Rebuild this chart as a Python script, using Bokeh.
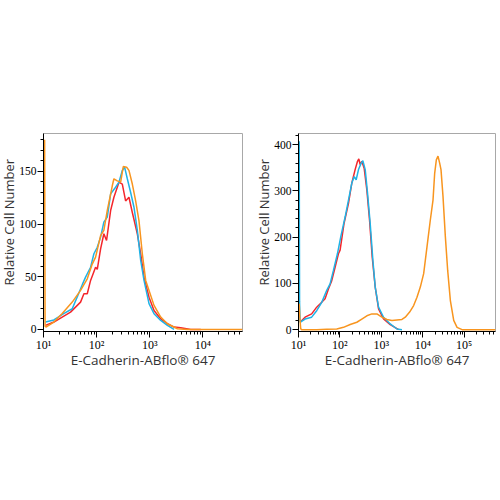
import math
from bokeh.plotting import figure
from bokeh.layouts import row
from bokeh.models import SingleIntervalTicker, LogTicker, Range1d
from bokeh.core.properties import value
from bokeh.embed import file_html
from bokeh.resources import INLINE

# ---------------- data: left panel ----------------
left_red_x = [10.9, 15.7, 22.5, 32.3, 49.9, 57.7, 66.7, 77.1, 95.7, 103, 119, 137, 154, 184, 212,
              264, 305, 352, 407, 471, 585, 677, 782, 972, 1207, 1614, 2155, 2875, 3843, 5940, 9160]
left_red_y = [3.8, 7, 11.7, 16.4, 25.9, 33.8, 33.8, 46.5, 59, 57, 76.5, 90.8, 84.4, 113, 125.5,
              139.8, 138, 122, 125.5, 111, 90.8, 71.8, 49.6, 30.6, 18, 10, 5.4, 2.2, 1.6, 0, 0]

left_blue_x = [10.9, 15.7, 24, 34.8, 43, 54, 62, 77.1, 89, 103, 119, 137, 159, 184, 228,
               264, 305, 337, 379, 438, 506, 585, 677, 782, 972, 1207, 1614, 2155, 2875]
left_blue_y = [7, 9, 15, 19.6, 30.6, 42.7, 49.6, 59, 71.8, 78, 87.6, 101.8, 106.6, 128.7, 135,
               139.8, 150.9, 154, 143, 130, 116, 94, 65.5, 46.5, 24.4, 14.9, 8.5, 3.8, 0]

left_orange_x = [10.5, 10.7, 11.1, 15.7, 22.5, 34.8, 49.9, 66.7, 82.8, 95.7, 119, 137, 159, 198, 212,
                 245, 284, 318, 368, 407, 471, 544, 629, 727, 841, 972, 1207, 1614, 2155, 3325,
                 5140, 12250, 56000]
left_orange_y = [180, 3, 2.2, 7, 15, 25.9, 37, 48, 62, 68.6, 89, 94, 113, 136.6, 143,
                 141, 139.8, 154.6, 154, 151, 138, 122, 103, 71.8, 46.5, 37, 22.8, 11.7, 5.4, 0.6,
                 0, 0, 0]

# ---------------- data: right panel ----------------
right_red_x = [10.9, 14.4, 20.8, 27.5, 34.4, 43.8, 52.8, 63.5, 76.5, 92.1, 101, 126, 161, 194, 233,
               266, 286, 308, 338, 385, 447, 519, 602, 712, 857, 1132, 1641, 2613]
right_red_y = [16, 27, 34, 48.6, 57, 67, 88, 106, 135, 164, 172, 230, 273, 317, 346,
               364, 369, 357, 364, 349, 302, 237, 157, 92, 45, 23, 11, 0]

right_blue_x = [10.4, 10.6, 10.9, 14.4, 20.8, 27.5, 36.4, 48.1, 57.9, 69.7, 87.1, 105, 134, 161, 194,
                221, 247, 281, 326, 358, 408, 464, 538, 625, 712, 857, 1132, 1641, 2383, 3148]
right_blue_y = [407, 60, 16, 23, 27, 41, 59, 85, 99, 128, 164, 201, 244, 280, 317,
                331, 324, 346, 360, 365, 346, 295, 230, 150, 92, 48.6, 26.8, 12.3, 1.4, 0]

right_orange_x = [10.4, 10.7, 11.3, 11.9, 27.5, 48.1, 84, 122, 177, 256, 338, 447, 591, 781, 1031,
                  1364, 1803, 2383, 3148, 3787, 4822, 6028, 7256, 8738, 10520, 12660, 15240,
                  17690, 19410, 21290, 23350, 25610, 27590, 30830, 35140, 40000, 46440, 55950,
                  67330, 88900, 571000]
right_orange_y = [56, 30, 2, 0, 0, 0.7, 1.4, 5, 11, 16, 23, 30, 34, 34, 27,
                  22, 20, 21, 22, 27, 38, 52, 70, 92, 121, 179, 237,
                  280, 338, 367, 375, 360, 346, 288, 201, 128, 63, 20,
                  5, 0, 0]

x_label = "E-Cadherin-ABflo® 647"
y_label = "Relative Cell Number"
left_y_range = (-2, 186)
right_y_range = (-4, 424)
left_x_range = (10, 56000)
right_x_range = (10, 571000)
sup = {1: "10¹", 2: "10²", 3: "10³", 4: "10⁴", 5: "10⁵"}

RED = "#f4262b"
BLUE = "#1fb3e6"
ORANGE = "#f8951f"
SERIF = "Liberation Serif"
LABEL_COLOR = "#333333"


def make_ylabel(width, text_x):
    """Narrow strip that carries the rotated y-axis title."""
    f = figure(width=width, height=500, x_range=Range1d(0, width), y_range=Range1d(0, 500),
               min_border=0, x_axis_location=None, y_axis_location=None,
               output_backend="svg", toolbar_location=None)
    f.grid.visible = False
    f.outline_line_color = None
    f.text(x=[text_x], y=[276], text=[y_label], angle=math.pi / 2,
           text_align="center", text_baseline="middle",
           text_font=value("Open Sans"), text_font_size="13px", text_color=LABEL_COLOR)
    return f


def make_panel(xr, yr, interval, border_left, frame_w, border_right, series):
    p = figure(x_axis_type="log", width=border_left + frame_w + border_right, height=500,
               frame_width=frame_w, frame_height=198,
               min_border_left=border_left, min_border_right=border_right,
               min_border_top=133, min_border_bottom=169,
               x_range=Range1d(*xr), y_range=Range1d(*yr),
               output_backend="svg", toolbar_location=None)
    for xs, ys, c in series:
        p.line(xs, ys, line_color=c, line_width=1.5)
    p.grid.visible = False
    p.outline_line_color = "#a8a8a8"
    p.outline_line_width = 1
    p.background_fill_color = "white"
    p.border_fill_color = "white"

    p.yaxis.ticker = SingleIntervalTicker(interval=interval, num_minor_ticks=5)
    p.xaxis.ticker = LogTicker(num_minor_ticks=10)
    overrides = {}
    for k, v in sup.items():
        overrides[10 ** k] = v
        overrides[str(10 ** k)] = v
    p.xaxis.major_label_overrides = overrides
    p.xaxis.major_label_text_align = "left"

    for ax in (p.xaxis, p.yaxis):
        ax.axis_line_color = "black"
        ax.major_tick_line_color = "black"
        ax.minor_tick_line_color = "black"
        ax.major_tick_in = 0
        ax.major_tick_out = 6
        ax.minor_tick_in = 0
        ax.minor_tick_out = 3
        ax.major_label_text_font = SERIF
        ax.major_label_text_color = "black"
        ax.axis_label_text_font = "Open Sans"
        ax.axis_label_text_font_style = "normal"
        ax.axis_label_text_font_size = "13.5px"
        ax.axis_label_text_color = LABEL_COLOR
    p.xaxis.major_label_text_font_size = "12px"
    p.yaxis.major_label_text_font_size = "11.5px"
    p.xaxis.axis_label = x_label
    p.yaxis.major_label_standoff = 1
    p.xaxis.major_label_standoff = 0
    p.xaxis.axis_label_standoff = -4
    return p


lab1 = make_ylabel(16, 8)
p1 = make_panel(left_x_range, left_y_range, 50, 27, 199, 13,
                [(left_red_x, left_red_y, RED), (left_blue_x, left_blue_y, BLUE),
                 (left_orange_x, left_orange_y, ORANGE)])
lab2 = make_ylabel(16, 8)
p2 = make_panel(right_x_range, right_y_range, 100, 27, 197, 5,
                [(right_red_x, right_red_y, RED), (right_blue_x, right_blue_y, BLUE),
                 (right_orange_x, right_orange_y, ORANGE)])

layout = row(lab1, p1, lab2, p2)
open("out.html", "w").write(file_html(layout, INLINE))
